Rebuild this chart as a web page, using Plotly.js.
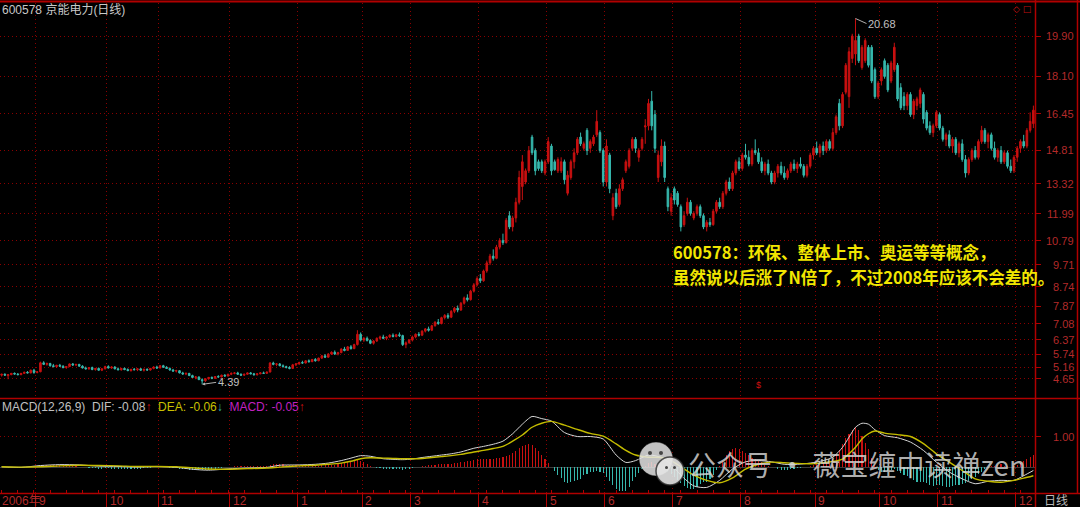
<!DOCTYPE html>
<html><head><meta charset="utf-8">
<script src="https://cdn.plot.ly/plotly-3.0.1.min.js"></script>
<style>html,body{margin:0;padding:0;background:#000;overflow:hidden}#chart{width:1080px;height:507px}</style>
</head><body><div id="chart"></div>
<script>
// ---- daily candles, 2006-08 .. 2007-12 (one line per month) ----
const open = [
4.80,4.84,4.78,4.82,4.88,4.85,4.82,4.88,4.93,4.90,5.02,
4.92,4.95,5.35,5.28,5.32,5.22,5.18,5.24,5.20,5.14,5.18,5.30,5.25,5.28,5.20,5.12,5.08,5.14,5.05,5.10,5.02,
5.08,5.18,5.12,5.16,5.08,5.04,5.10,5.05,5.00,5.06,5.04,5.08,5.02,5.06,5.03,5.10,5.16,
5.12,5.22,5.15,5.10,5.03,4.98,5.00,4.90,4.85,4.88,4.78,4.70,4.72,4.60,4.55,4.64,4.70,4.66,4.74,4.72,4.80,4.76,
4.84,4.88,4.90,4.84,4.80,4.84,4.90,4.86,4.82,4.86,4.90,4.88,4.94,5.34,5.28,5.30,5.22,5.18,5.14,5.10,5.26,
5.30,5.36,5.34,5.44,5.40,5.50,5.44,5.56,5.66,5.60,5.74,5.82,5.74,5.80,5.96,5.90,6.06,5.98,6.16,6.62,
6.36,6.44,6.34,6.22,6.32,6.44,6.50,6.44,6.50,6.58,6.52,6.60,6.56,6.16,6.24,
6.36,6.50,6.62,6.58,6.76,6.86,6.80,7.00,7.16,7.10,7.36,7.46,7.38,7.64,7.78,7.70,8.00,8.24,8.16,8.54,8.82,9.10,
9.00,9.44,9.80,10.10,10.00,10.50,10.80,10.70,11.90,11.40,11.80,12.50,13.20,13.40,13.90,15.40,14.80,14.30,14.30,13.80,14.30,
15.00,14.30,13.90,13.90,14.30,12.90,13.60,14.30,14.70,15.40,14.90,15.70,14.90,15.10,15.50,15.60,14.80,13.40,
14.60,11.90,12.90,12.40,13.10,13.90,14.10,14.90,15.30,14.50,14.90,15.85,15.90,17.00,16.40,13.60,14.30,15.00,13.10,12.10,13.10,
12.90,12.30,11.50,12.00,12.50,11.80,12.00,12.30,11.90,11.40,11.60,11.50,12.10,12.50,12.30,12.90,13.40,13.10,13.80,14.30,14.00,14.60,
14.50,14.20,14.80,14.70,14.30,13.90,14.20,13.80,13.40,13.80,14.10,13.80,13.60,13.90,14.20,14.00,14.20,14.10,13.70,14.10,14.60,14.90,14.70,
15.00,14.80,15.20,14.90,15.60,16.90,15.90,17.40,17.20,18.90,19.10,19.90,18.50,18.80,19.40,19.40,18.40,17.20,17.90,18.80,
18.60,17.90,18.40,18.60,17.60,17.20,16.80,17.30,16.40,16.80,16.90,17.30,16.50,15.90,15.60,15.90,16.40,15.80,
15.30,15.50,15.00,15.30,14.70,15.10,14.40,13.80,14.40,14.80,14.50,15.20,15.70,15.20,15.50,14.90,14.50,14.80,14.30,14.70,14.10,13.90,
14.50,14.90,15.20,15.00,15.70,16.00
];
const high = [
4.86,4.88,4.84,4.90,4.92,4.89,4.90,4.95,4.98,5.05,5.08,
4.98,5.40,5.42,5.36,5.35,5.30,5.26,5.30,5.24,5.20,5.32,5.34,5.30,5.30,5.24,5.18,5.16,5.18,5.12,5.14,5.10,
5.22,5.24,5.20,5.20,5.14,5.12,5.14,5.10,5.08,5.12,5.10,5.12,5.08,5.10,5.12,5.20,5.22,
5.25,5.26,5.20,5.14,5.08,5.04,5.02,4.95,4.92,4.90,4.82,4.76,4.74,4.66,4.66,4.72,4.74,4.76,4.80,4.82,4.84,4.86,
4.92,4.94,4.95,4.88,4.86,4.92,4.94,4.90,4.88,4.92,4.96,4.96,5.38,5.40,5.34,5.34,5.28,5.22,5.20,5.30,5.34,
5.40,5.44,5.46,5.50,5.52,5.56,5.58,5.70,5.74,5.78,5.86,5.90,5.84,6.00,6.06,6.10,6.14,6.20,6.80,6.70,
6.50,6.52,6.40,6.36,6.48,6.56,6.60,6.54,6.62,6.66,6.64,6.70,6.60,6.30,6.40,
6.56,6.66,6.72,6.80,6.90,6.96,7.04,7.20,7.30,7.40,7.52,7.56,7.70,7.84,7.90,8.06,8.30,8.40,8.60,8.90,9.20,9.30,
9.50,9.90,10.20,10.40,10.60,10.90,11.10,11.80,12.10,11.90,12.70,13.90,14.60,14.00,15.00,15.50,14.90,14.40,14.40,14.40,15.40,
15.10,14.40,14.50,14.50,14.40,13.90,14.40,14.90,15.40,15.60,15.20,15.80,15.30,15.50,16.60,15.70,14.90,15.30,
14.70,12.90,13.10,13.30,13.60,14.40,14.90,15.40,15.40,14.90,15.40,16.20,17.10,17.45,16.60,14.80,15.30,15.20,13.20,12.90,13.20,
13.00,12.40,12.10,12.70,12.60,12.10,12.40,12.40,12.00,11.70,11.80,12.20,12.60,12.70,13.00,13.50,13.60,13.90,14.40,14.50,14.70,15.10,
14.80,14.90,15.30,14.90,14.50,14.30,14.40,13.90,13.90,14.20,14.30,14.10,14.00,14.30,14.40,14.30,14.50,14.20,14.20,14.70,15.00,15.20,15.10,
15.20,15.30,15.30,15.80,16.40,17.10,17.40,18.70,19.40,20.00,20.68,20.00,19.50,19.80,19.50,19.50,18.50,17.90,18.50,18.90,
18.70,18.80,19.60,18.70,17.80,17.40,17.40,17.40,17.10,17.20,17.60,17.40,16.60,16.10,16.00,16.60,16.50,15.90,
15.60,15.70,15.40,15.40,15.20,15.30,14.60,14.50,14.90,15.00,15.30,15.90,15.80,15.60,15.60,15.20,14.90,15.00,14.80,14.80,14.40,14.60,
15.00,15.30,15.50,15.80,16.50,16.80
];
const low = [
4.74,4.78,4.62,4.80,4.83,4.80,4.80,4.85,4.88,4.88,4.86,
4.88,4.93,5.25,5.22,5.18,5.15,5.12,5.18,5.10,5.08,5.16,5.22,5.20,5.18,5.10,5.06,5.04,5.02,5.00,5.00,4.98,
5.06,5.10,5.08,5.06,5.02,5.00,5.02,4.98,4.96,5.02,4.98,5.00,4.96,5.00,5.00,5.06,5.08,
5.10,5.12,5.08,5.00,4.96,4.92,4.88,4.82,4.80,4.76,4.68,4.62,4.58,4.39,4.50,4.60,4.62,4.64,4.68,4.70,4.74,4.74,
4.80,4.84,4.82,4.76,4.76,4.82,4.84,4.78,4.78,4.84,4.86,4.86,4.92,5.24,5.20,5.20,5.14,5.10,5.06,5.08,5.20,
5.26,5.30,5.32,5.36,5.38,5.40,5.42,5.52,5.56,5.58,5.70,5.70,5.68,5.78,5.86,5.88,5.94,5.96,6.12,6.30,
6.28,6.30,6.18,6.16,6.28,6.38,6.40,6.36,6.46,6.48,6.48,6.50,6.10,6.00,6.20,
6.30,6.44,6.52,6.54,6.70,6.74,6.76,6.96,7.04,7.06,7.28,7.30,7.34,7.56,7.60,7.66,7.94,8.08,8.12,8.48,8.76,8.90,
8.96,9.36,9.70,9.90,9.96,10.40,10.60,10.66,11.30,11.20,11.60,12.40,12.60,13.30,13.80,14.60,13.70,13.90,13.80,13.70,14.20,
13.70,13.90,13.80,13.80,13.30,12.80,13.50,14.00,14.60,15.00,14.80,14.60,14.70,15.00,15.40,14.70,13.20,13.20,
12.90,11.70,12.20,12.30,13.00,13.80,14.00,14.80,14.70,14.30,14.80,15.10,15.70,15.70,14.70,13.40,14.10,13.40,12.10,11.90,12.40,
12.30,11.20,11.40,11.90,11.90,11.70,11.90,11.80,11.30,11.20,11.40,11.45,12.00,12.20,12.20,12.80,13.00,13.00,13.70,13.90,13.90,14.40,
14.10,14.10,14.60,14.20,13.80,13.70,13.70,13.30,13.30,13.60,13.70,13.50,13.50,13.80,13.90,13.80,14.00,13.60,13.60,14.00,14.40,14.60,14.50,
14.60,14.70,14.80,14.80,15.50,15.70,15.80,17.30,16.70,18.70,18.60,18.70,18.40,18.70,18.50,17.80,17.10,17.10,17.70,18.00,
17.40,17.80,18.30,17.00,16.60,16.60,16.60,16.30,16.20,16.60,16.70,16.00,15.70,15.50,15.40,15.80,15.70,15.20,
15.00,14.90,14.70,14.60,14.50,14.30,13.60,13.70,14.30,14.40,14.40,15.10,15.10,14.90,14.80,14.40,14.30,14.20,14.20,14.00,13.80,13.80,
14.30,14.70,14.90,14.90,15.60,15.80
];
const close = [
4.84,4.80,4.82,4.88,4.85,4.82,4.88,4.93,4.90,5.02,4.92,
4.95,5.35,5.28,5.32,5.22,5.18,5.24,5.20,5.14,5.18,5.30,5.25,5.28,5.20,5.12,5.08,5.14,5.05,5.10,5.02,5.08,
5.18,5.12,5.16,5.08,5.04,5.10,5.05,5.00,5.06,5.04,5.08,5.02,5.06,5.03,5.10,5.16,5.12,
5.22,5.15,5.10,5.03,4.98,5.00,4.90,4.85,4.88,4.78,4.70,4.72,4.60,4.55,4.64,4.70,4.66,4.74,4.72,4.80,4.76,4.84,
4.88,4.90,4.84,4.80,4.84,4.90,4.86,4.82,4.86,4.90,4.88,4.94,5.34,5.28,5.30,5.22,5.18,5.14,5.10,5.26,5.30,
5.36,5.34,5.44,5.40,5.50,5.44,5.56,5.66,5.60,5.74,5.82,5.74,5.80,5.96,5.90,6.06,5.98,6.16,6.62,6.36,
6.44,6.34,6.22,6.32,6.44,6.50,6.44,6.50,6.58,6.52,6.60,6.56,6.16,6.24,6.36,
6.50,6.62,6.58,6.76,6.86,6.80,7.00,7.16,7.10,7.36,7.46,7.38,7.64,7.78,7.70,8.00,8.24,8.16,8.54,8.82,9.10,9.00,
9.44,9.80,10.10,10.00,10.50,10.80,10.70,11.70,11.40,11.80,12.50,13.60,14.30,13.90,14.80,14.70,13.90,14.00,13.90,14.30,15.20,
13.90,13.95,14.40,14.30,13.50,13.70,14.30,14.70,15.30,15.10,15.10,14.80,15.20,15.40,16.10,14.80,13.40,15.00,
13.10,12.70,12.30,13.10,13.50,14.30,14.80,15.30,14.90,14.80,15.30,15.90,16.90,15.90,14.90,14.60,15.00,13.60,12.30,12.70,12.60,
12.40,11.40,11.90,12.50,12.00,12.00,12.30,11.90,11.40,11.60,11.50,12.10,12.50,12.30,12.90,13.40,13.10,13.80,14.30,14.00,14.60,14.50,
14.20,14.80,14.70,14.30,13.90,14.20,13.80,13.40,13.80,14.10,13.80,13.60,13.90,14.20,14.00,14.20,14.10,13.70,14.10,14.60,14.90,14.70,15.00,
14.80,15.20,14.90,15.60,16.30,15.90,17.30,18.60,19.20,19.90,19.70,18.80,19.40,19.70,18.60,17.90,17.20,17.80,18.40,18.10,
17.50,18.70,19.40,17.10,16.70,16.80,17.30,16.40,17.00,17.10,17.50,16.20,15.80,15.60,15.90,16.50,15.80,15.30,
15.50,15.00,15.30,14.70,15.10,14.40,13.80,14.40,14.80,14.50,15.20,15.70,15.20,15.50,14.90,14.50,14.80,14.30,14.70,14.10,13.90,14.50,
14.90,15.20,15.00,15.70,16.10,16.60
];

// ---- MACD(12,26,9) panel ----
const macdHist = [
0.00,0.00,-0.01,0.00,0.01,-0.01,0.00,0.01,0.02,0.03,
0.03,0.04,0.06,0.08,0.09,0.09,0.08,0.08,0.07,0.06,
0.05,0.05,0.04,0.03,0.02,0.01,0.00,-0.01,-0.02,-0.03,
-0.04,-0.04,-0.03,-0.03,-0.04,-0.04,-0.04,-0.04,-0.05,-0.05,
-0.04,-0.04,-0.04,-0.04,-0.03,-0.02,-0.01,0.00,0.01,0.01,
0.01,0.00,-0.01,-0.02,-0.03,-0.04,-0.05,-0.06,-0.07,-0.08,
-0.09,-0.09,-0.10,-0.09,-0.08,-0.06,-0.04,-0.03,-0.01,0.00,
0.01,0.02,0.03,0.03,0.03,0.04,0.04,0.04,0.04,0.04,
0.04,0.04,0.04,0.08,0.11,0.12,0.12,0.11,0.09,0.07,
0.07,0.07,0.06,0.06,0.06,0.06,0.06,0.06,0.06,0.07,
0.07,0.08,0.09,0.09,0.10,0.13,0.14,0.16,0.18,0.20,
0.26,0.22,0.16,0.10,0.06,0.02,-0.01,-0.03,-0.04,-0.05,
-0.05,-0.05,-0.04,-0.04,-0.07,-0.06,-0.04,-0.02,0.00,0.02,
0.04,0.06,0.07,0.08,0.09,0.10,0.10,0.11,0.12,0.12,
0.13,0.14,0.16,0.18,0.20,0.22,0.24,0.26,0.26,0.26,
0.27,0.28,0.28,0.30,0.32,0.34,0.36,0.40,0.46,0.54,
0.62,0.70,0.74,0.76,0.72,0.64,0.54,0.40,0.28,0.14,
0.02,-0.12,-0.24,-0.34,-0.46,-0.50,-0.48,-0.44,-0.42,-0.36,
-0.26,-0.20,-0.16,-0.14,-0.12,-0.14,-0.18,-0.30,-0.44,-0.56,
-0.70,-0.76,-0.78,-0.76,-0.62,-0.44,-0.32,-0.18,-0.06,0.06,
0.14,0.16,0.10,0.04,0.00,-0.06,-0.14,-0.22,-0.30,-0.40,
-0.52,-0.60,-0.66,-0.70,-0.70,-0.62,-0.54,-0.48,-0.46,-0.36,
-0.24,-0.10,0.06,0.22,0.40,0.52,0.58,0.62,0.60,0.52,
0.48,0.40,0.32,0.26,0.22,0.16,0.08,0.04,0.02,0.00,
-0.04,-0.08,-0.10,-0.08,-0.06,-0.04,-0.02,-0.02,0.00,0.02,
0.04,0.08,0.12,0.14,0.14,0.18,0.22,0.28,0.40,0.56,
0.76,0.96,1.08,1.22,1.30,1.20,1.02,0.80,0.60,0.30,
0.08,-0.10,-0.14,-0.16,-0.12,-0.10,-0.06,-0.12,-0.18,-0.24,
-0.28,-0.34,-0.40,-0.46,-0.48,-0.46,-0.50,-0.56,-0.60,-0.56,
-0.58,-0.60,-0.62,-0.64,-0.60,-0.58,-0.56,-0.54,-0.52,-0.44,
-0.36,-0.30,-0.22,-0.14,-0.06,0.00,0.04,0.06,0.08,0.10,
0.06,0.04,0.02,0.04,0.08,0.14,0.20,0.26,0.34,0.40
];
const macdIdx = [0,6,12,18,24,30,36,42,48,54,60,64,70,76,82,86,92,97,101,105,108,111,114,118,121,124,127,130,133,136,139,142,146,149,152,155,158,161,164,167,170,174,178,182,186,190,193,196,200,204,207,210,214,218,222,226,230,234,238,242,246,250,254,257,260,262,264,266,268,270,273,277,281,285,289,293,297,301,305,309,313,316,319];
const dif = [0.02,0.00,0.06,0.09,0.08,0.04,0.03,0.01,0.03,0.00,-0.07,-0.09,-0.05,-0.02,0.00,0.07,0.08,0.10,0.14,0.22,0.30,0.38,0.36,0.28,0.26,0.25,0.27,0.32,0.36,0.40,0.44,0.50,0.62,0.68,0.75,0.85,1.09,1.40,1.65,1.58,1.50,1.13,1.00,1.00,0.92,0.40,0.16,0.22,0.40,0.32,0.10,-0.25,-0.60,-0.65,-0.42,-0.05,0.18,0.22,0.18,0.10,0.10,0.14,0.22,0.33,0.65,0.98,1.30,1.43,1.40,1.22,1.03,0.96,0.82,0.55,0.17,-0.15,-0.37,-0.53,-0.45,-0.42,-0.42,-0.27,-0.10];
const dea = [0.02,0.01,0.02,0.05,0.07,0.06,0.05,0.03,0.03,0.02,-0.02,-0.05,-0.06,-0.04,-0.02,0.01,0.05,0.07,0.10,0.14,0.20,0.28,0.31,0.30,0.29,0.28,0.28,0.29,0.32,0.35,0.38,0.42,0.50,0.55,0.61,0.68,0.85,1.05,1.30,1.43,1.49,1.37,1.23,1.10,1.01,0.76,0.55,0.40,0.33,0.32,0.22,0.02,-0.25,-0.42,-0.50,-0.34,-0.06,0.10,0.17,0.15,0.13,0.12,0.15,0.19,0.27,0.44,0.65,0.92,1.09,1.18,1.11,1.06,1.00,0.77,0.44,0.17,-0.10,-0.37,-0.45,-0.48,-0.42,-0.35,-0.27];

// ---- axis ticks / labels ----
const priceTicks = [19.90,18.10,16.45,14.81,13.32,11.99,10.79,9.71,8.74,7.87,7.08,6.37,5.74,5.16,4.65];
const macdTicks = [1.00];
const monthIdx = [11,33,49,71,92,112,127,148,169,187,208,229,252,272,290,314];
const monthLabels = ['9','10','11','12','1','2','3','4','5','6','7','8','9','10','11','12'];
const yearLabel = '2006年';
const highMark = {i:264, v:20.68};
const lowMark = {i:62, v:4.39};

// ---- drawing ----
const W = 1080, H = 507;
const px = x => x / W, py = y => 1 - y / H;
const RED = '#c81010', TEAL = '#36b8ad', FRAME = '#b00000', GRID = '#8a0000', AXT = '#b42a2a';
const N = close.length;
const idx = close.map((_, i) => i);
const xr = [-0.5, N - 0.5];
const CJK = 'Liberation Sans, Arial, Noto Sans CJK SC, sans-serif';

const traces = [
  {type:'candlestick', x: idx, open: open, high: high, low: low, close: close, xaxis:'x', yaxis:'y',
   increasing:{line:{color:RED, width:1}, fillcolor:RED},
   decreasing:{line:{color:TEAL, width:1}, fillcolor:TEAL},
   whiskerwidth:0, hoverinfo:'skip'},
  {type:'bar', x: idx, y: macdHist, xaxis:'x2', yaxis:'y2', width:0.34,
   marker:{color: macdHist.map(v => v >= 0 ? RED : TEAL), line:{width:0}}, hoverinfo:'skip'},
  {type:'scatter', mode:'lines', x: macdIdx, y: dif, xaxis:'x2', yaxis:'y2',
   line:{color:'#d6d6d6', width:1, shape:'spline', smoothing:0.7}, hoverinfo:'skip'},
  {type:'scatter', mode:'lines', x: macdIdx, y: dea, xaxis:'x2', yaxis:'y2',
   line:{color:'#c4bc00', width:1.4, shape:'spline', smoothing:0.7}, hoverinfo:'skip'}
];

const shapes = [
  {type:'line', xref:'paper', yref:'paper', x0:0, x1:1, y0:py(1.5), y1:py(1.5), line:{color:FRAME, width:2}},
  {type:'line', xref:'paper', yref:'paper', x0:0, x1:1, y0:py(398.5), y1:py(398.5), line:{color:FRAME, width:1.5}},
  {type:'line', xref:'paper', yref:'paper', x0:0, x1:1, y0:py(493.5), y1:py(493.5), line:{color:FRAME, width:1.5}},
  {type:'line', xref:'paper', yref:'paper', x0:px(1035.5), x1:px(1035.5), y0:0, y1:1, line:{color:FRAME, width:1.5}},
  {type:'line', xref:'paper', yref:'paper', x0:px(1077.5), x1:px(1077.5), y0:py(494), y1:1, line:{color:FRAME, width:1.5}},
  // watermark logo (two bubbles)
  {type:'circle', xref:'paper', yref:'paper', x0:px(639), x1:px(673), y0:py(476), y1:py(442), fillcolor:'rgba(228,228,228,0.85)', line:{color:'rgba(0,0,0,0.5)', width:1}},
  {type:'circle', xref:'paper', yref:'paper', x0:px(656), x1:px(684), y0:py(485), y1:py(457), fillcolor:'rgba(228,228,228,0.9)', line:{color:'rgba(40,40,40,0.8)', width:1.5}},
  {type:'circle', xref:'paper', yref:'paper', x0:px(648), x1:px(652), y0:py(455), y1:py(451), fillcolor:'#444', line:{width:0}},
  {type:'circle', xref:'paper', yref:'paper', x0:px(659), x1:px(663), y0:py(455), y1:py(451), fillcolor:'#444', line:{width:0}},
  {type:'circle', xref:'paper', yref:'paper', x0:px(665), x1:px(668), y0:py(469), y1:py(466), fillcolor:'#444', line:{width:0}},
  {type:'circle', xref:'paper', yref:'paper', x0:px(673), x1:px(676), y0:py(469), y1:py(466), fillcolor:'#444', line:{width:0}}
];

const ann = [];
priceTicks.forEach(v => ann.push({xref:'paper', yref:'y', x:px(1076), y:v, xanchor:'right', yanchor:'middle',
  text:v.toFixed(2), showarrow:false, font:{family:CJK, size:11, color:AXT}}));
macdTicks.forEach(v => ann.push({xref:'paper', yref:'y2', x:px(1076), y:v, xanchor:'right', yanchor:'middle',
  text:v.toFixed(2), showarrow:false, font:{family:CJK, size:11, color:AXT}}));
monthIdx.forEach((m, k) => ann.push({xref:'x2', yref:'paper', x:m - 0.5, y:py(500.5), xanchor:'left', yanchor:'middle',
  xshift:1, text:monthLabels[k], showarrow:false, font:{family:CJK, size:12, color:AXT}}));
ann.push({xref:'paper', yref:'paper', x:0, y:py(500.5), xanchor:'left', yanchor:'middle', text:yearLabel,
  showarrow:false, font:{family:CJK, size:12, color:AXT}});
ann.push({xref:'paper', yref:'paper', x:px(1056), y:py(500.5), xanchor:'center', yanchor:'middle', text:'日线',
  showarrow:false, font:{family:CJK, size:12, color:'#b8b8b8'}});
ann.push({xref:'paper', yref:'paper', x:0, y:py(10), xanchor:'left', yanchor:'middle', text:'600578 京能电力(日线)',
  showarrow:false, font:{family:CJK, size:12, color:'#c8c8c8'}});
ann.push({xref:'paper', yref:'paper', x:px(1022), y:py(9), xanchor:'center', yanchor:'middle', text:'◇ □',
  showarrow:false, font:{family:'DejaVu Sans', size:9, color:'#c01010'}});
ann.push({xref:'paper', yref:'paper', x:0, y:py(407), xanchor:'left', yanchor:'middle',
  text:'MACD(12,26,9)  DIF: -0.08<span style="color:#d01010">↑</span>  <span style="color:#c8c000">DEA: -0.06</span><span style="color:#30b8b0">↓</span>  <span style="color:#c020c0">MACD: -0.05</span><span style="color:#d01010">↑</span>',
  showarrow:false, font:{family:CJK, size:12, color:'#c0c0c0'}});
ann.push({xref:'x', yref:'y', x:highMark.i, y:highMark.v, text:highMark.v.toFixed(2), showarrow:true,
  arrowhead:0, arrowwidth:1, arrowcolor:'#b0b0b0', ax:11, ay:5, xanchor:'left', yanchor:'middle', standoff:0,
  font:{family:CJK, size:11, color:'#c0c0c0'}});
ann.push({xref:'x', yref:'y', x:lowMark.i, y:lowMark.v, text:lowMark.v.toFixed(2), showarrow:true,
  arrowhead:2, arrowsize:0.6, arrowwidth:1, arrowcolor:'#b0b0b0', ax:14, ay:-2, xanchor:'left', yanchor:'middle', standoff:0,
  font:{family:CJK, size:11, color:'#c0c0c0'}});
ann.push({xref:'x', yref:'paper', x:234, y:py(392), text:'$', showarrow:false,
  font:{family:CJK, size:9, color:'#d01010'}});
ann.push({xref:'paper', yref:'paper', x:px(671), y:py(252), xanchor:'left', yanchor:'middle',
  text:'<b>600578：环保、整体上市、奥运等等概念，</b>', showarrow:false,
  font:{family:'Noto Sans CJK SC', size:16.5, color:'#f2e600'}});
ann.push({xref:'paper', yref:'paper', x:px(671), y:py(277), xanchor:'left', yanchor:'middle',
  text:'<b>虽然说以后涨了N倍了，不过2008年应该不会差的。</b>', showarrow:false,
  font:{family:'Noto Sans CJK SC', size:16.5, color:'#f2e600'}});
ann.push({xref:'paper', yref:'paper', x:px(686), y:py(464), xanchor:'left', yanchor:'middle',
  text:'公众号 · 薇宝缠中读禅zen', showarrow:false,
  font:{family:'Noto Sans CJK SC', size:28, color:'rgba(215,215,215,0.82)'}});

const axBase = {fixedrange:true, zeroline:false, showline:false, gridcolor:GRID, griddash:'1px,3px', gridwidth:1};
const layout = {
  width:W, height:H, margin:{l:0, r:0, t:0, b:0}, paper_bgcolor:'#000', plot_bgcolor:'#000', showlegend:false,
  font:{family:CJK, color:'#c0c0c0', size:11}, bargap:0,
  xaxis:Object.assign({}, axBase, {domain:[0, 1035/1080], range:xr, anchor:'y', rangeslider:{visible:false},
    tickmode:'array', tickvals:monthIdx.map(m => m - 0.5), showticklabels:false, ticks:'', showgrid:true}),
  yaxis:Object.assign({}, axBase, {domain:[py(397.5), py(3)], range:[3.805, 21.37], side:'right', anchor:'x',
    tickmode:'array', tickvals:priceTicks, showticklabels:false, ticks:'outside', ticklen:5, tickcolor:FRAME, showgrid:true}),
  xaxis2:Object.assign({}, axBase, {domain:[0, 1035/1080], range:xr, anchor:'y2', matches:'x',
    tickmode:'array', tickvals:monthIdx.map(m => m - 0.5), showticklabels:false, ticks:'outside', ticklen:14, tickcolor:FRAME, showgrid:true,
    minor:{tickmode:'linear', tick0:0, dtick:5, ticks:'inside', ticklen:3, tickcolor:FRAME, showgrid:false}}),
  yaxis2:Object.assign({}, axBase, {domain:[py(493), py(399.5)], range:[-0.83, 2.2], side:'right', anchor:'x2',
    tickmode:'array', tickvals:macdTicks, showticklabels:false, ticks:'outside', ticklen:5, tickcolor:FRAME, showgrid:true,
    zeroline:true, zerolinecolor:'#3c3c3c', zerolinewidth:1}),
  shapes:shapes, annotations:ann
};
Plotly.newPlot('chart', traces, layout, {staticPlot:true, displayModeBar:false});
</script>
</body></html>
